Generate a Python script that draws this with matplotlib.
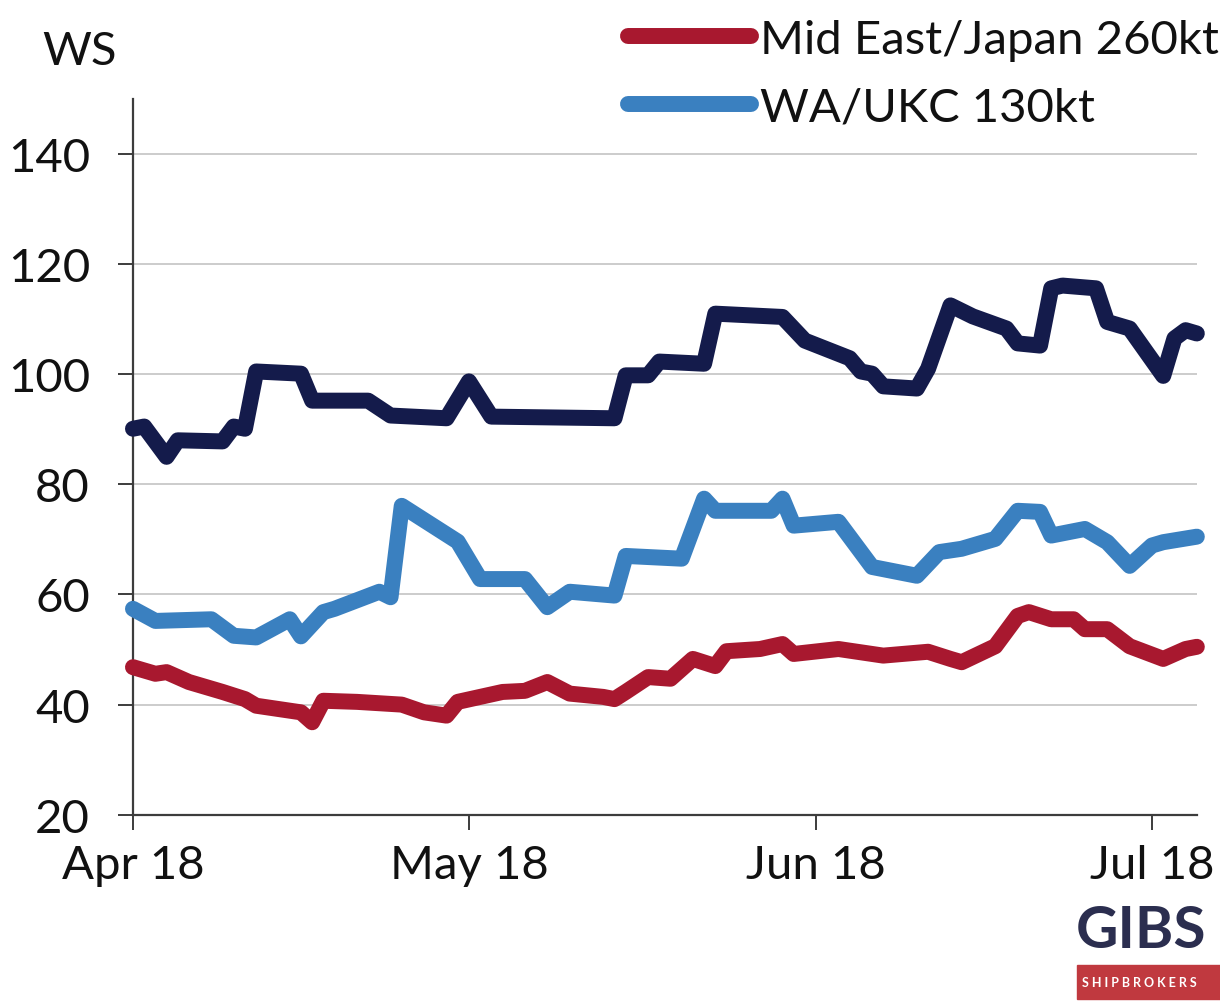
import pandas as pd
import matplotlib
matplotlib.use("Agg")
import matplotlib.pyplot as plt
from matplotlib.patches import Rectangle

plt.rcParams['font.family'] = ['Lato', 'DejaVu Sans']

# WS rates, 2018
navy_dates = ["04-01", "04-02", "04-04", "04-05", "04-09", "04-10", "04-11", "04-12",
              "04-16", "04-17", "04-22", "04-24", "04-29", "05-01", "05-03", "05-14",
              "05-15", "05-17", "05-18", "05-22", "05-23", "05-29", "05-31", "06-04",
              "06-05", "06-06", "06-07", "06-10", "06-11", "06-13", "06-15", "06-18",
              "06-19", "06-21", "06-22", "06-23", "06-26", "06-27", "06-29", "07-02",
              "07-03", "07-04", "07-05"]
navy_ws = [90.1, 90.5, 85.0, 88.0, 87.8, 90.5, 90.1, 100.5,
           100.1, 95.2, 95.2, 92.5, 92.0, 98.7, 92.3, 92.0,
           99.8, 99.8, 102.3, 101.9, 111.0, 110.4, 106.1, 102.9,
           100.5, 100.1, 97.8, 97.4, 101.0, 112.5, 110.5, 108.3,
           105.6, 105.2, 115.6, 116.1, 115.6, 109.5, 108.3, 99.7,
           106.5, 108.0, 107.4]

wa_dates = ["04-01", "04-03", "04-08", "04-10", "04-12", "04-15", "04-16", "04-18",
            "04-19", "04-23", "04-24", "04-25", "04-30", "05-02", "05-06", "05-08",
            "05-10", "05-14", "05-15", "05-20", "05-22", "05-23", "05-28", "05-29",
            "05-30", "06-03", "06-06", "06-10", "06-12", "06-14", "06-17", "06-19",
            "06-21", "06-22", "06-25", "06-27", "06-29", "07-01", "07-02", "07-05"]
wa_ws = [57.4, 55.2, 55.5, 52.5, 52.2, 55.5, 52.4, 56.8,
         57.4, 60.5, 59.5, 76.1, 69.6, 62.8, 62.8, 57.7,
         60.5, 59.8, 67.0, 66.5, 77.4, 75.2, 75.2, 77.4,
         72.5, 73.2, 65.0, 63.4, 67.7, 68.3, 70.1, 75.2,
         75.0, 70.7, 71.9, 69.5, 65.2, 68.9, 69.5, 70.5]

me_dates = ["04-01", "04-03", "04-04", "04-06", "04-09", "04-11", "04-12", "04-16",
            "04-17", "04-18", "04-21", "04-25", "04-27", "04-29", "04-30", "05-04",
            "05-06", "05-08", "05-10", "05-13", "05-14", "05-15", "05-17", "05-19",
            "05-21", "05-23", "05-24", "05-27", "05-29", "05-30", "06-03", "06-07",
            "06-11", "06-13", "06-14", "06-17", "06-19", "06-20", "06-22", "06-24",
            "06-25", "06-27", "06-29", "07-02", "07-04", "07-05"]
me_ws = [46.8, 45.6, 45.9, 44.1, 42.3, 41.0, 39.8, 38.6,
         36.8, 40.7, 40.5, 40.0, 38.6, 38.0, 40.5, 42.3,
         42.5, 44.1, 42.0, 41.4, 41.0, 42.3, 45.0, 44.7,
         48.3, 47.0, 49.7, 50.1, 51.0, 49.2, 50.1, 48.9,
         49.6, 48.3, 47.7, 50.6, 56.1, 56.8, 55.5, 55.5,
         53.7, 53.7, 50.6, 48.3, 50.1, 50.5]

month_ticks = ["2018-04-01", "2018-05-01", "2018-06-01", "2018-07-01"]
month_labels = ["Apr 18", "May 18", "Jun 18", "Jul 18"]
y_ticks = [20, 40, 60, 80, 100, 120, 140]


def to_dates(md):
    return pd.to_datetime(["2018-" + d for d in md])


fig = plt.figure(figsize=(12.2, 10.04), dpi=100)
ax = fig.add_axes([0.109, 0.1875, 0.872, 0.713])

line_kw = dict(linewidth=11.5, solid_capstyle='round', solid_joinstyle='round', clip_on=False)
ax.plot(to_dates(navy_dates), navy_ws, color='#141b4b', zorder=3, **line_kw)
ax.plot(to_dates(me_dates), me_ws, color='#a8182f', label='Mid East/Japan 260kt', zorder=3, **line_kw)
ax.plot(to_dates(wa_dates), wa_ws, color='#3a80c0', label='WA/UKC 130kt', zorder=3, **line_kw)

ax.set_ylim(20, 150)
ax.set_xlim(pd.Timestamp("2018-04-01"), pd.Timestamp("2018-07-05"))
ax.set_yticks(y_ticks)
ax.set_xticks(pd.to_datetime(month_ticks))
ax.set_xticklabels(month_labels)

ax.grid(axis='y', color='#c8c8c8', linewidth=1.3)
ax.set_axisbelow(True)
for s in ['top', 'right']:
    ax.spines[s].set_visible(False)
for s in ['left', 'bottom']:
    ax.spines[s].set_color('#3c3c3c')
    ax.spines[s].set_linewidth(1.6)

ax.tick_params(axis='y', labelsize=34, length=11, width=1.4, pad=20, colors='#3c3c3c', labelcolor='#111111')
ax.tick_params(axis='x', labelsize=34, length=11, width=1.4, pad=10, colors='#3c3c3c', labelcolor='#111111')

fig.text(80 / 1220, 1 - 52 / 1004, 'WS', fontsize=34, ha='center', va='center', color='#111111')

leg = fig.legend(loc='upper left', bbox_to_anchor=(628 / 1220, 1 - 20 / 1004),
                 frameon=False, fontsize=34, handlelength=2.6, handletextpad=0.2,
                 labelspacing=0.55, borderpad=0, borderaxespad=0)
for t in leg.get_texts():
    t.set_color('#111111')

# Gibson logo in the corner
fig.text(1076 / 1220, 1 - 932 / 1004, 'GIBS', fontsize=42, fontweight='bold',
         color='#2b2e4f', ha='left', va='center')
fig.add_artist(Rectangle((1077 / 1220, 1 - 1000 / 1004), 150 / 1220, 34 / 1004,
                         transform=fig.transFigure, color='#c0393f', clip_on=False))
fig.text(1082 / 1220, 1 - 983 / 1004, 'S H I P B R O K E R S', fontsize=9,
         fontweight='bold', color='white', ha='left', va='center')

fig.savefig('out.png', dpi=100)
